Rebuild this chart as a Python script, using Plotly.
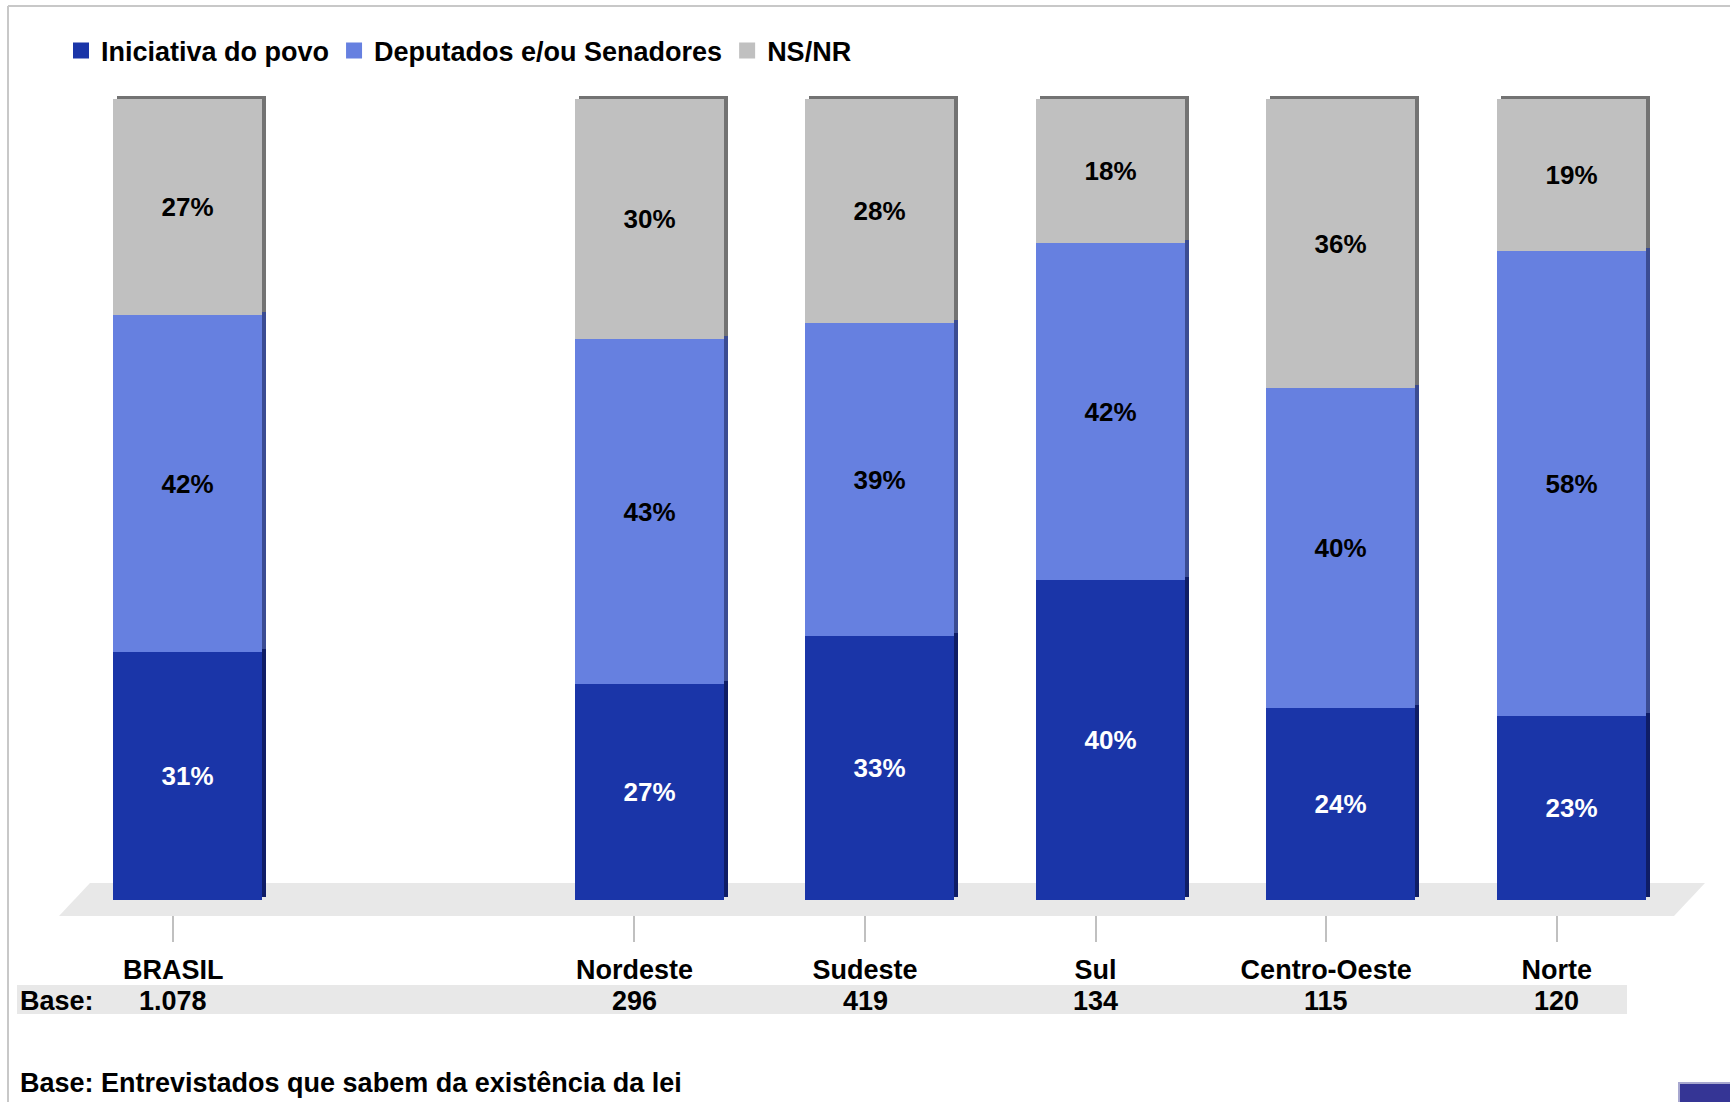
import plotly.graph_objects as go

# ---- data ----
regions = ["BRASIL", "Nordeste", "Sudeste", "Sul", "Centro-Oeste", "Norte"]
bases = ["1.078", "296", "419", "134", "115", "120"]
series_names = ["Iniciativa do povo", "Deputados e/ou Senadores", "NS/NR"]
iniciativa = [31, 27, 33, 40, 24, 23]
deputados = [42, 43, 39, 42, 40, 58]
nsnr = [27, 30, 28, 18, 36, 19]

# ---- styling ----
FONT = "Liberation Sans, Arial, sans-serif"
face_colors = ["#1a35a8", "#6680e0", "#c0c0c0"]
side_colors = ["#0f1d66", "#3b4c93", "#737373"]
text_colors = ["white", "black", "black"]

W, H = 1730, 1102
ML, MR, MT, MB = 58, 58, 81, 187
PW, PH = W - ML - MR, H - MT - MB
XR = [-0.5, 6.5]
YR = [-1.81, 102.25]
ux = PW / (XR[1] - XR[0])
uy = PH / (YR[1] - YR[0])

def px2paper_x(px):
    return (px - ML) / PW

def px2paper_y(py):
    return (H - MB - py) / PH

# slots: BRASIL first, then a blank slot, then the regions
slots = [0] + [i + 1 for i in range(1, len(regions))]
bar_shift = 14.6 / ux          # 3D perspective offset of the bars vs. ticks
bar_w = 149 / ux
dx = 4 / ux
dy = 3 / uy

values = [iniciativa, deputados, nsnr]
bases_stack = []
acc = [0] * len(regions)
for v in values:
    bases_stack.append(list(acc))
    acc = [a + b for a, b in zip(acc, v)]

fig = go.Figure()
xs = [s + bar_shift for s in slots]
# side / top shadows (3D effect)
for k, v in enumerate(values):
    fig.add_trace(go.Bar(
        x=[x + dx for x in xs], y=v, base=[b + dy for b in bases_stack[k]],
        width=bar_w, marker=dict(color=side_colors[k], line=dict(width=0)),
        showlegend=False, hoverinfo="skip"))
# faces
for k, v in enumerate(values):
    fig.add_trace(go.Bar(
        x=xs, y=v, base=bases_stack[k], name=series_names[k],
        width=bar_w, marker=dict(color=face_colors[k], line=dict(width=0)),
        texttemplate="<b>%{y}%</b>", textposition="inside",
        insidetextanchor="middle", constraintext="none",
        textfont=dict(family=FONT, size=26, color=text_colors[k]),
        showlegend=False, legendgroup=series_names[k]))
# legend entries (square swatches)
for k in range(len(values)):
    fig.add_trace(go.Scatter(
        x=[None], y=[None], mode="markers", name="<b>" + series_names[k] + "</b>",
        legendgroup=series_names[k],
        marker=dict(symbol="square", size=20, color=face_colors[k], line=dict(width=0))))

shapes = []
# floor (paper coords so it is not clipped)
shapes.append(dict(type="path", xref="paper", yref="paper", layer="below",
                   path=(f"M {px2paper_x(59)},{px2paper_y(916)} L {px2paper_x(90)},{px2paper_y(883)} "
                         f"L {px2paper_x(1705)},{px2paper_y(883)} L {px2paper_x(1674)},{px2paper_y(916)} Z"),
                   fillcolor="#e8e8e8", line=dict(width=0)))
# base band
shapes.append(dict(type="rect", xref="paper", yref="paper", layer="below",
                   x0=px2paper_x(17), x1=px2paper_x(1627),
                   y0=px2paper_y(1014), y1=px2paper_y(985),
                   fillcolor="#e8e8e8", line=dict(width=0)))
# frame
shapes.append(dict(type="line", xref="paper", yref="paper",
                   x0=px2paper_x(8), x1=px2paper_x(1740), y0=px2paper_y(6), y1=px2paper_y(6),
                   line=dict(color="#c8c8c8", width=2)))
shapes.append(dict(type="line", xref="paper", yref="paper",
                   x0=px2paper_x(8), x1=px2paper_x(8), y0=px2paper_y(6), y1=px2paper_y(1110),
                   line=dict(color="#c8c8c8", width=2)))
# corner block
shapes.append(dict(type="rect", xref="paper", yref="paper",
                   x0=px2paper_x(1679), x1=px2paper_x(1740),
                   y0=px2paper_y(1110), y1=px2paper_y(1083),
                   fillcolor="#353595", line=dict(color="#a8a8d0", width=2)))

annotations = []
annotations.append(dict(text="<b>Base:</b>", xref="paper", yref="paper",
                        x=px2paper_x(18), y=px2paper_y(1001), xanchor="left", yanchor="middle",
                        showarrow=False, font=dict(family=FONT, size=27, color="black")))
for s, b in zip(slots, bases):
    annotations.append(dict(text="<b>" + b + "</b>", xref="x", yref="paper",
                            x=s, y=px2paper_y(1001), xanchor="center", yanchor="middle",
                            showarrow=False, font=dict(family=FONT, size=27, color="black")))
annotations.append(dict(text="<b>Base: Entrevistados que sabem da existência da lei</b>",
                        xref="paper", yref="paper", x=px2paper_x(18), y=px2paper_y(1083),
                        xanchor="left", yanchor="middle", showarrow=False,
                        font=dict(family=FONT, size=27, color="black")))

fig.update_layout(
    width=W, height=H, margin=dict(l=ML, r=MR, t=MT, b=MB),
    barmode="overlay", bargap=0,
    plot_bgcolor="white", paper_bgcolor="white",
    font=dict(family=FONT, size=27, color="black"),
    showlegend=True,
    legend=dict(orientation="h", x=px2paper_x(61), y=px2paper_y(51),
                xanchor="left", yanchor="middle", traceorder="normal",
                font=dict(family=FONT, size=27, color="black"),
                itemwidth=30, bgcolor="rgba(0,0,0,0)"),
    xaxis=dict(range=XR, tickvals=slots, ticktext=["<b>" + r + "</b>" for r in regions],
               ticks="outside", ticklen=26, tickwidth=2, tickcolor="#c0c0c0",
               ticklabelstandoff=5,
               showline=False, showgrid=False, zeroline=False, fixedrange=True,
               tickfont=dict(family=FONT, size=27, color="black")),
    yaxis=dict(range=YR, visible=False, showgrid=False, zeroline=False, fixedrange=True),
    shapes=shapes, annotations=annotations,
)

fig.write_html("out.html", config={"displayModeBar": False},
               post_script="document.body.style.margin='0';document.body.style.overflow='hidden';")
